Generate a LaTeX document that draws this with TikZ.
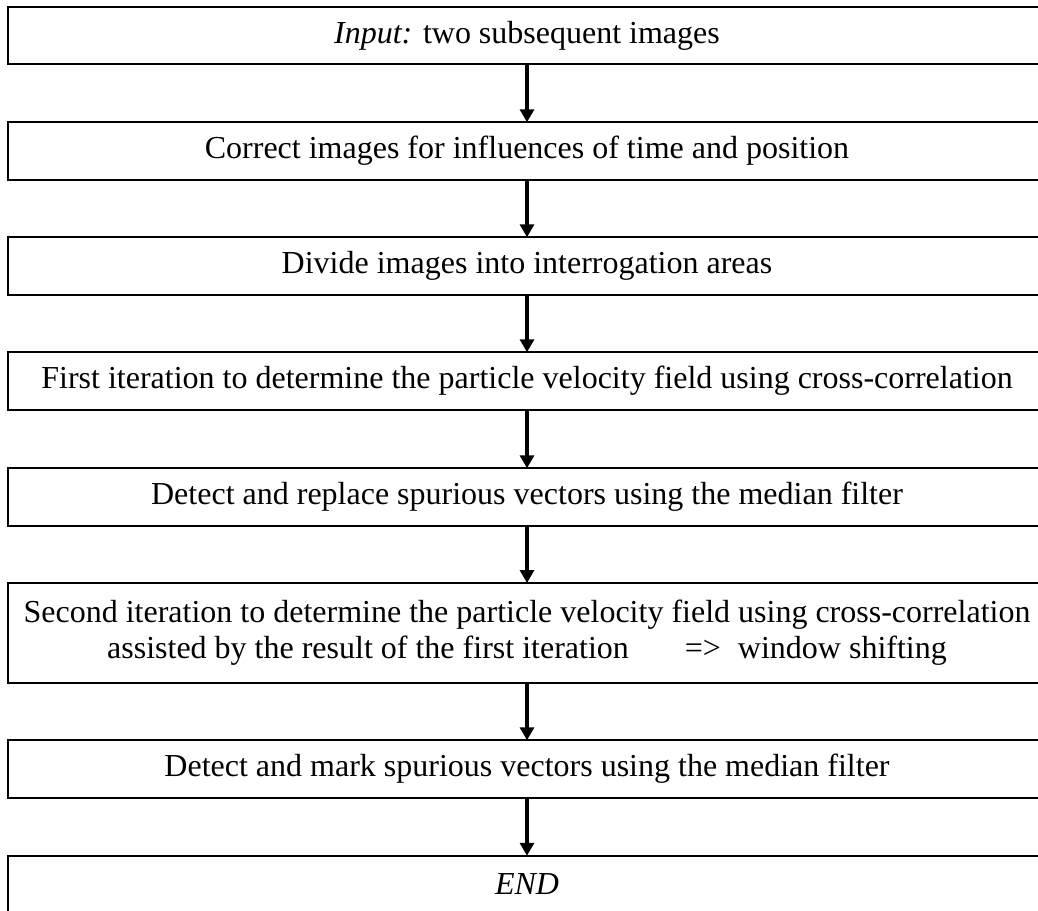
\documentclass[tikz,border=0pt]{standalone}
\usepackage{fontspec}
\setmainfont{Liberation Serif}
\usetikzlibrary{arrows.meta}

\tikzset{
  stepbox/.style={draw=black, line width=2pt, inner sep=0pt, outer sep=0pt,
    minimum width=1037.7pt, minimum height=57.5pt, align=center,
    font=\fontsize{32}{36}\selectfont},
  flow/.style={line width=4pt, -{Triangle[length=13pt,width=14pt]}}
}

\begin{document}
\begin{tikzpicture}[x=1pt, y=-1pt]
  \useasboundingbox (0,0) rectangle (1038,910);
  \clip (0,0) rectangle (1038,910);

  % processing steps, top to bottom
  \node[stepbox] (b1) at (527,35.5) {\textit{Input:} two subsequent images};
  \node[stepbox] (b2) at (527,151) {Correct images for influences of time and position};
  \node[stepbox] (b3) at (527,266) {Divide images into interrogation areas};
  \node[stepbox] (b4) at (527,381) {First iteration to determine the particle velocity field using cross-correlation};
  \node[stepbox] (b5) at (527,497) {Detect and replace spurious vectors using the median filter};
  \node[stepbox, minimum height=100pt] (b6) at (527,633)
    {Second iteration to determine the particle velocity field using cross-correlation\\
     assisted by the result of the first iteration\hspace{56pt}=>\hspace{17pt}window shifting};
  \node[stepbox] (b7) at (527,769) {Detect and mark spurious vectors using the median filter};
  \node[stepbox] (b8) at (527,884.5) {\textit{END}};

  % connectors
  \foreach \a/\b in {b1/b2, b2/b3, b3/b4, b4/b5, b5/b6, b6/b7, b7/b8}
    \draw[flow] (\a.south) -- (\b.north);
\end{tikzpicture}
\end{document}
